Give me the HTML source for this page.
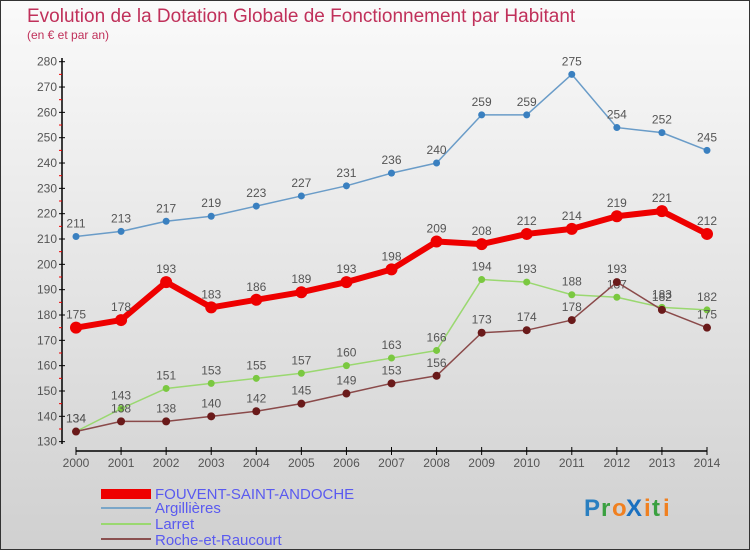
<!DOCTYPE html>
<html><head><meta charset="utf-8"><style>
html,body{margin:0;padding:0}
body{width:750px;height:550px;overflow:hidden;font-family:"Liberation Sans",sans-serif}
#wrap{position:relative;width:748px;height:548px;border:1px solid #333;background:linear-gradient(#fafafa,#d0d0d0)}
</style></head><body>
<div id="wrap">
<svg id="chart" width="748" height="548" xmlns="http://www.w3.org/2000/svg">
<text x="26" y="21" font-size="19" fill="#c0305a">Evolution de la Dotation Globale de Fonctionnement par Habitant</text>
<text x="26" y="38" font-size="12" fill="#c0305a">(en € et par an)</text>
<g id="axes"></g><g id="series"></g>
<g>
<rect x="100" y="488" width="50" height="10" fill="#e00"/>
<text x="154" y="498" font-size="15" fill="#5a5af0">FOUVENT-SAINT-ANDOCHE</text>
<rect x="100" y="506" width="50" height="2" fill="#7aa6c8"/>
<text x="154" y="512" font-size="15" fill="#5a5af0">Argillières</text>
<rect x="100" y="522" width="50" height="2" fill="#9ad870"/>
<text x="154" y="528" font-size="15" fill="#5a5af0">Larret</text>
<rect x="100" y="537" width="50" height="2" fill="#8a5050"/>
<text x="154" y="544" font-size="15" fill="#5a5af0">Roche-et-Raucourt</text>
</g>
<g font-size="24" font-weight="bold">
<text x="583" y="515" fill="#2a7fc0">P</text><text x="600" y="515" fill="#3aa040">r</text><text x="611" y="515" fill="#f08020">o</text><text x="625" y="515" fill="#1a70c0">X</text><text x="643" y="515" fill="#f08020">i</text><text x="651" y="515" fill="#3aa040">t</text><text x="662" y="515" fill="#f08020">i</text>
</g>
</svg></div>
<script>
const years=[2000,2001,2002,2003,2004,2005,2006,2007,2008,2009,2010,2011,2012,2013,2014];
const fouvent=[175,178,193,183,186,189,193,198,209,208,212,214,219,221,212];
const argillieres=[211,213,217,219,223,227,231,236,240,259,259,275,254,252,245];
const larret=[134,143,151,153,155,157,160,163,166,194,193,188,187,183,182];
const roche=[134,138,138,140,142,145,149,153,156,173,174,178,193,182,175];
const yTicks=[130,140,150,160,170,180,190,200,210,220,230,240,250,260,270,280];
const NS="http://www.w3.org/2000/svg";
const xs=i=>75+i*(631/14);
const ys=v=>60.7+(280-v)*2.533;
function mk(t,a,p){const e=document.createElementNS(NS,t);for(const k in a)e.setAttribute(k,a[k]);p.appendChild(e);return e;}
const ax=document.getElementById('axes');
let l=mk('line',{x1:61,y1:57,x2:61,y2:443,stroke:'#000','stroke-width':1.5},ax);


l=mk('line',{x1:75,y1:450,x2:706,y2:450,stroke:'#000','stroke-width':1.5},ax);


yTicks.forEach((v,i)=>{
 mk('line',{x1:58,y1:ys(v),x2:64,y2:ys(v),stroke:'#000'},ax);
 if(i<yTicks.length-1)mk('line',{x1:58,y1:ys(v+5),x2:61,y2:ys(v+5),stroke:'#e00'},ax);
 const t=mk('text',{x:56,y:ys(v)+4,'text-anchor':'end','font-size':12,fill:'#555'},ax);t.textContent=v;
 
 
});
years.forEach((y,i)=>{
 mk('line',{x1:xs(i),y1:446,x2:xs(i),y2:454,stroke:'#000'},ax);
 const t=mk('text',{x:xs(i),y:466,'text-anchor':'middle','font-size':12,fill:'#555'},ax);t.textContent=y;
 
 
});
const sg=document.getElementById('series');
function draw(data,name,col,w,r,dot){
 const g=mk('g',{},sg);
 
 
 const p=mk('polyline',{points:data.map((v,i)=>xs(i)+','+ys(v)).join(' '),fill:'none',stroke:col,'stroke-width':w,'stroke-linejoin':'round'},g);
 
 
 data.forEach((v,i)=>{
  const c=mk('circle',{cx:xs(i),cy:ys(v),r:r,fill:dot},g);
  
  
  const t=mk('text',{x:xs(i),y:ys(v)-9,'text-anchor':'middle','font-size':12,fill:'#555'},g);t.textContent=v;
  
  
 });
}
draw(argillieres,'argillieres','#6a9cc8',1.5,3.5,'#3a80c0');
draw(larret,'larret','#9ad870',1.5,3.5,'#7ac840');
draw(roche,'roche','#8a4a4a',1.5,4,'#6a1a1a');
draw(fouvent,'fouvent','#e00',6,6,'#e00');
</script>
</body></html>
